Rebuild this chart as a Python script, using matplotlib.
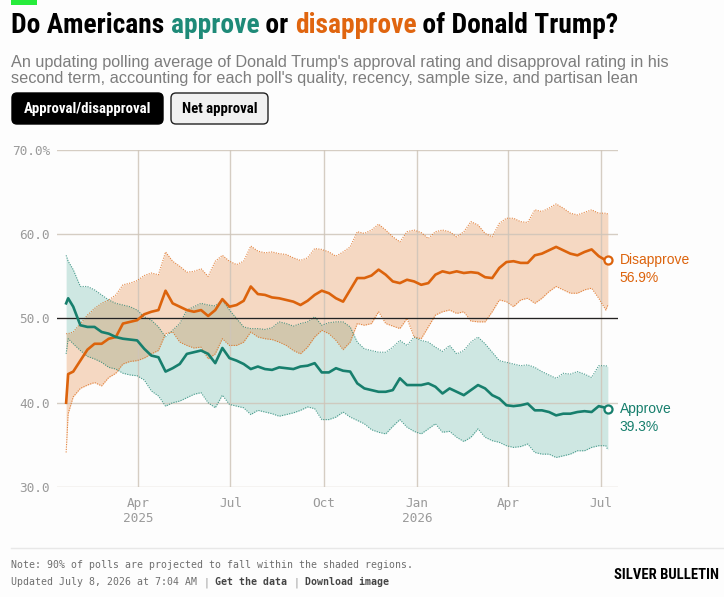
import matplotlib
matplotlib.use("Agg")
import matplotlib.pyplot as plt
import pandas as pd
from matplotlib import font_manager
from matplotlib.patches import FancyBboxPatch, Rectangle

W, H = 724, 597

# ---- data (roughly weekly) ----
start_date = "2025-01-20"
day_offsets = [0, 2] + list(range(7, 533, 7)) + [534]

approve = [51.8, 52.4, 51.4, 49.2, 49.0, 49.0, 48.4, 48.2, 47.8, 47.6, 47.5, 47.4, 46.4,
           45.6, 45.4, 43.7, 44.1, 44.6, 45.8, 46.0, 46.2, 45.8, 44.7, 46.5, 45.3, 45.0,
           44.6, 44.0, 44.3, 44.0, 43.9, 44.2, 44.1, 44.0, 44.3, 44.4, 44.7, 43.6, 43.6,
           44.1, 43.8, 43.7, 42.3, 41.7, 41.5, 41.3, 41.3, 41.5, 42.9, 42.1, 42.1, 42.1,
           42.3, 41.9, 41.1, 41.7, 41.3, 40.9, 41.5, 42.1, 41.7, 40.9, 40.5, 39.7, 39.6,
           39.7, 39.9, 39.1, 39.1, 38.9, 38.5, 38.7, 38.7, 38.9, 39.0, 38.9, 39.6, 39.4, 39.3]
approve_hi = [57.5, 56.8, 55.8, 53.8, 53.8, 53.4, 52.8, 52.2, 51.8, 51.6, 51.4, 51.0, 50.2,
              49.8, 49.0, 47.8, 48.6, 49.4, 51.0, 51.4, 51.8, 51.6, 51.5, 52.2, 51.0, 50.0,
              49.0, 48.8, 48.8, 48.7, 48.9, 49.6, 49.4, 49.1, 49.4, 49.6, 50.2, 49.2, 49.5,
              49.6, 49.6, 49.0, 47.2, 46.4, 46.2, 46.0, 46.0, 46.6, 47.4, 46.8, 47.8, 47.4,
              47.2, 46.6, 46.1, 46.8, 45.8, 46.2, 47.2, 47.8, 47.0, 46.0, 45.0, 44.8, 44.6,
              44.4, 44.5, 44.2, 43.7, 43.3, 42.9, 43.5, 43.4, 43.7, 43.4, 43.0, 44.4, 44.4, 44.3]
approve_lo = [45.8, 47.6, 47.0, 46.2, 45.5, 45.2, 44.8, 44.2, 44.0, 43.5, 43.3, 43.2, 42.7,
              41.4, 40.8, 39.6, 40.0, 40.2, 40.6, 41.0, 41.2, 40.0, 39.4, 40.9, 39.8, 39.6,
              39.4, 38.6, 39.1, 38.9, 38.7, 38.4, 38.6, 38.8, 39.1, 39.5, 39.3, 38.0, 38.0,
              38.3, 38.9, 38.3, 37.9, 37.5, 36.8, 36.5, 36.3, 37.2, 38.0, 37.1, 36.6, 36.3,
              36.9, 37.5, 36.5, 36.6, 35.9, 35.4, 35.9, 36.9, 35.9, 35.5, 35.3, 34.9, 34.7,
              34.8, 35.1, 34.1, 33.9, 33.9, 33.5, 33.7, 33.9, 34.3, 34.3, 34.7, 34.9, 34.9, 34.4]
disapprove = [40.0, 43.4, 43.7, 45.0, 46.3, 47.0, 47.0, 47.6, 47.8, 49.4, 49.6, 49.8, 50.5,
              50.8, 51.0, 53.3, 51.8, 51.4, 51.0, 50.8, 51.0, 50.3, 51.0, 52.3, 51.4, 51.6,
              52.1, 53.8, 52.9, 52.8, 52.5, 52.4, 52.2, 52.0, 51.6, 52.1, 52.8, 53.3, 53.0,
              52.4, 52.0, 53.4, 54.8, 54.8, 55.1, 55.8, 55.2, 54.4, 54.2, 54.6, 54.4, 54.0,
              54.2, 55.2, 55.6, 55.4, 55.6, 55.4, 55.5, 55.4, 54.9, 54.8, 56.0, 56.7, 56.8,
              56.6, 56.6, 57.5, 57.7, 58.1, 58.5, 58.1, 57.7, 57.5, 57.9, 58.2, 57.4, 56.9, 56.9]
disapprove_hi = [48.2, 48.2, 48.4, 49.4, 50.4, 51.2, 51.8, 52.2, 52.8, 54.0, 54.2, 54.5, 55.1,
                 55.4, 55.2, 57.9, 56.8, 56.2, 55.5, 55.6, 55.9, 55.0, 56.8, 57.5, 56.8, 56.4,
                 56.8, 58.6, 58.0, 57.8, 57.9, 57.7, 57.6, 57.2, 56.9, 57.2, 58.3, 58.2, 57.9,
                 57.4, 57.9, 58.5, 60.3, 60.1, 60.5, 61.2, 60.5, 59.7, 59.1, 60.3, 60.5, 60.2,
                 59.5, 60.3, 60.5, 60.3, 59.7, 60.3, 61.5, 61.1, 60.1, 59.7, 61.3, 61.9, 61.9,
                 61.5, 61.4, 62.9, 62.7, 63.1, 63.6, 63.1, 62.5, 62.3, 62.6, 62.9, 62.5, 62.5, 62.4]
disapprove_lo = [34.1, 38.7, 40.7, 41.7, 42.1, 42.4, 42.0, 43.0, 43.5, 44.6, 44.9, 45.0, 45.3,
                 45.8, 46.2, 48.2, 48.4, 47.2, 46.8, 46.5, 46.6, 45.2, 45.8, 47.6, 46.8, 46.8,
                 47.2, 48.4, 47.8, 47.6, 47.5, 47.2, 46.8, 46.2, 45.8, 46.6, 47.8, 48.6, 48.2,
                 47.4, 46.3, 47.2, 49.4, 49.2, 49.4, 50.8, 49.4, 49.1, 48.8, 50.0, 47.8, 47.6,
                 49.0, 50.4, 50.8, 51.0, 50.6, 50.8, 49.7, 49.6, 49.6, 50.8, 52.2, 52.0, 51.4,
                 52.2, 52.4, 51.8, 52.4, 53.2, 53.8, 53.4, 53.0, 53.0, 53.4, 53.6, 52.4, 51.0, 51.6]

month_ticks = ["2025-04-01", "2025-07-01", "2025-10-01", "2026-01-01", "2026-04-01", "2026-07-01"]
month_labels = ["Apr\n2025", "Jul", "Oct", "Jan\n2026", "Apr", "Jul"]
y_ticks = [30, 40, 50, 60, 70]
y_labels = ["30.0", "40.0", "50.0", "60.0", "70.0%"]

dates = pd.to_datetime(start_date) + pd.to_timedelta(day_offsets, unit="D")

TEAL = "#177f6d"
TEAL_T = "#1e8a78"
ORANGE = "#dc630c"
ORANGE_T = "#e0650f"
BG = "#fdfdfd"


def first_font(names):
    for n in names:
        try:
            font_manager.findfont(font_manager.FontProperties(family=n), fallback_to_default=False)
            return n
        except Exception:
            pass
    return "DejaVu Sans"


NARROW = first_font(["Liberation Sans Narrow", "Roboto Condensed", "Roboto", "Liberation Sans"])
SANS = first_font(["Liberation Sans", "Inter", "Roboto"])
MONO = first_font(["DejaVu Sans Mono", "Liberation Mono"])

fig = plt.figure(figsize=(W / 100, H / 100), dpi=100, facecolor=BG)
renderer = fig.canvas.get_renderer()

# pixel-space layer for header / footer
lay = fig.add_axes([0, 0, 1, 1], zorder=-1)
lay.set_xlim(0, W)
lay.set_ylim(H, 0)
lay.axis("off")


def text_width(s, **kw):
    t = lay.text(0, 0, s, **kw)
    w = t.get_window_extent(renderer).width
    t.remove()
    return w


def fitted(s, target, **kw):
    return 10 * target / text_width(s, fontsize=10, **kw)


def draw_runs(x, y, runs, **kw):
    for s, c, extra in runs:
        opts = dict(kw, **extra)
        lay.text(x, y, s, color=c, va="baseline", **opts)
        x += text_width(s + "|", **opts) - text_width("|", **opts)


# green tag
lay.add_patch(Rectangle((11, 0), 26, 5, color="#27ec3c", lw=0))

# title
title_runs = [("Do Americans ", "black", {}), ("approve", TEAL_T, {}), (" or ", "black", {}),
              ("disapprove", ORANGE_T, {}), (" of Donald Trump?", "black", {})]
title_full = "".join(r[0] for r in title_runs)
tsize = fitted(title_full, 608, family=NARROW, weight="bold")
draw_runs(11, 33, title_runs, fontsize=tsize, family=NARROW, weight="bold")

# subtitle
sub1 = "An updating polling average of Donald Trump's approval rating and disapproval rating in his"
sub2 = "second term, accounting for each poll's quality, recency, sample size, and partisan lean"
ssize = fitted(sub1, 661, family=SANS)
lay.text(11, 67, sub1, fontsize=ssize, family=SANS, color="#7d7d7d", va="baseline")
lay.text(11, 83, sub2, fontsize=ssize, family=SANS, color="#7d7d7d", va="baseline")

# toggle buttons
lay.add_patch(FancyBboxPatch((12, 93), 151, 31, boxstyle="round,pad=0,rounding_size=5",
                             fc="black", ec="black", lw=1))
lay.add_patch(FancyBboxPatch((171, 93), 97, 31, boxstyle="round,pad=0,rounding_size=5",
                             fc="#f1f1f1", ec="#222222", lw=1))
bsize = fitted("Approval/disapproval", 128, family=NARROW, weight="bold")
lay.text(87.5, 109, "Approval/disapproval", fontsize=bsize, family=NARROW, weight="bold",
         color="white", ha="center", va="center")
lay.text(219.5, 109, "Net approval", fontsize=bsize, family=NARROW, weight="bold",
         color="black", ha="center", va="center")

# footer
lay.plot([11, W], [548, 548], color="#e8e8e8", lw=1)
note = "Note: 90% of polls are projected to fall within the shaded regions."
nsize = fitted(note, 401, family=MONO)
lay.text(11, 568, note, fontsize=nsize, family=MONO, color="#6e6e6e", va="baseline")
draw_runs(11, 585, [("Updated July 8, 2026 at 7:04 AM ", "#6e6e6e", {}),
                    ("|", "#999999", {}),
                    (" Get the data ", "#444444", {"weight": "bold"}),
                    ("|", "#999999", {}),
                    (" Download image", "#444444", {"weight": "bold"})],
          fontsize=nsize, family=MONO)
lsize = fitted("SILVER BULLETIN", 104, family=NARROW, weight="bold")
lay.text(719, 579, "SILVER BULLETIN", fontsize=lsize, family=NARROW, weight="bold",
         color="black", ha="right", va="baseline")

# ---- main chart ----
ax = fig.add_axes([57 / W, 1 - 487 / H, (618 - 57) / W, (487 - 150) / H], zorder=1)
ax.set_facecolor("none")

ax.fill_between(dates, approve_lo, approve_hi, color="#168f7a", alpha=0.2, lw=0, zorder=1)
ax.fill_between(dates, disapprove_lo, disapprove_hi, color="#e06a12", alpha=0.25, lw=0, zorder=1.1)
for band, col in [(approve_lo, TEAL), (approve_hi, TEAL), (disapprove_lo, ORANGE), (disapprove_hi, ORANGE)]:
    ax.plot(dates, band, color=col, lw=0.8, ls=(0, (1, 1.2)), alpha=0.75, zorder=2.6)

ax.axhline(50, color="#222222", lw=0.9, zorder=2.7)
ax.plot(dates, disapprove, color=ORANGE, lw=1.9, zorder=3, solid_joinstyle="round")
ax.plot(dates, approve, color=TEAL, lw=1.9, zorder=3, solid_joinstyle="round")

for series, col, name in [(disapprove, ORANGE, "Disapprove"), (approve, TEAL, "Approve")]:
    ax.plot(dates[-1], series[-1], "o", ms=5.8, mfc=BG, mec=col, mew=1.6, zorder=4, clip_on=False)
    ax.annotate(name, (dates[-1], series[-1]), xytext=(8.6, 0), textcoords="offset points",
                ha="left", va="center", color=col, fontsize=10, family=SANS, annotation_clip=False)
    ax.annotate(f"{series[-1]:.1f}%", (dates[-1], series[-1]), xytext=(8.6, -13),
                textcoords="offset points", ha="left", va="center", color=col, fontsize=10,
                family=SANS, annotation_clip=False)

ax.set_xlim(pd.Timestamp("2025-01-11"), pd.Timestamp("2026-07-18"))
ax.set_ylim(30, 70)
ax.set_yticks(y_ticks)
ax.set_yticklabels(y_labels)
ax.set_xticks(pd.to_datetime(month_ticks))
ax.set_xticklabels(month_labels, linespacing=1.25)
ax.tick_params(length=0, labelsize=9.2, labelcolor="#9a9a9a")
ax.tick_params(axis="y", pad=5)
ax.tick_params(axis="x", pad=7)
for lab in ax.get_xticklabels() + ax.get_yticklabels():
    lab.set_family(MONO)
ax.grid(True, color="#cfc5b9", lw=1, alpha=0.85, zorder=2.5)
ax.set_axisbelow(False)
for s in ax.spines.values():
    s.set_visible(False)

fig.savefig("out.png", dpi=100, facecolor=BG)
